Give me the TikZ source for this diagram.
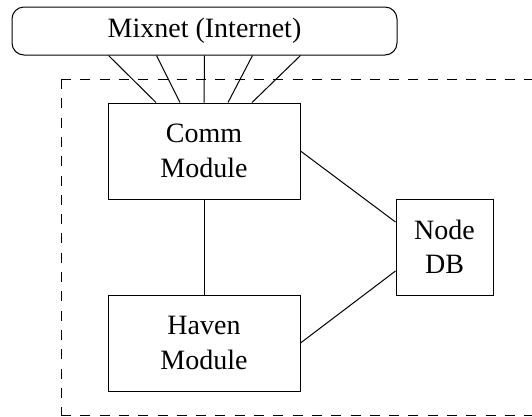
\documentclass[tikz,border=0pt]{standalone}
\usepackage{fontspec}
\setmainfont{Liberation Serif}
\begin{document}
\begin{tikzpicture}[x=1pt,y=-1pt,
  every node/.style={font=\fontsize{28}{34.5}\selectfont, align=center, inner sep=0pt},
  boxnode/.style={draw, line width=1pt, minimum width=192pt, minimum height=96pt},
  link/.style={line width=1pt},
  dashbox/.style={line width=1pt, dash pattern=on 10pt off 9.3pt}]
\useasboundingbox (0,0) rectangle (532,416);
\clip (0,0) rectangle (532,416);
\node[draw, line width=1pt, rounded corners=12pt, minimum width=385pt, minimum height=48pt] (mixnet) at (204.5,31) {Mixnet (Internet)};
\node[boxnode] (comm) at (204,151) {Comm\\Module};
\node[boxnode] (haven) at (204,343) {Haven\\Module};
\node[draw, line width=1pt, minimum width=97pt, minimum height=96pt] (db) at (444.5,247) {Node\\DB};
\coordinate (tl) at (61,79);
\coordinate (tr) at (545,79);
\coordinate (bl) at (61,415);
\coordinate (br) at (545,415);
\draw[dashbox] (tl) -- (tr);
\draw[dashbox] (tl) -- (bl);
\draw[dashbox] (bl) -- (br);
\draw[link] ([xshift=-96pt]mixnet.south) -- ([xshift=-48pt]comm.north);
\draw[link] ([xshift=-48pt]mixnet.south) -- ([xshift=-24pt]comm.north);
\draw[link] (mixnet.south) -- (comm.north);
\draw[link] ([xshift=48pt]mixnet.south) -- ([xshift=24pt]comm.north);
\draw[link] ([xshift=96pt]mixnet.south) -- ([xshift=48pt]comm.north);
\draw[link] (comm.south) -- (haven.north);
\draw[link] (comm.east) -- ([yshift=25pt]db.west);
\draw[link] (haven.east) -- ([yshift=-24pt]db.west);
\end{tikzpicture}
\end{document}
